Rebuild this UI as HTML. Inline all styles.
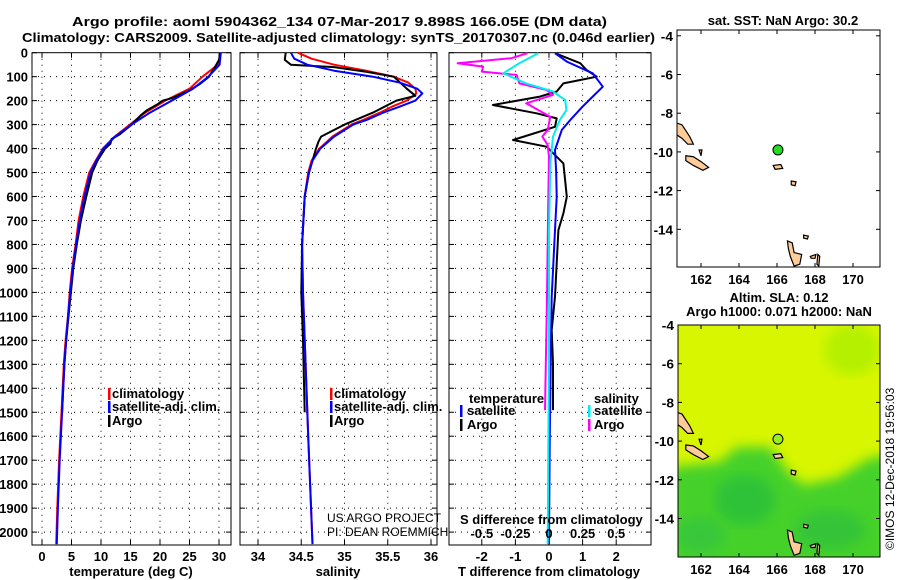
<!DOCTYPE html>
<html><head><meta charset="utf-8">
<style>
body{margin:0;background:#fff;}
svg{display:block;font-family:"Liberation Sans",sans-serif;}
.t{font-weight:bold;font-size:13px;fill:#000;}
.tk{font-weight:bold;font-size:13px;fill:#000;}
</style></head>
<body>
<svg id="c" width="900" height="580" viewBox="0 0 900 580">
<text class="t" x="72" y="26" font-size="14" textLength="535" lengthAdjust="spacingAndGlyphs">Argo profile: aoml 5904362_134 07-Mar-2017 9.898S 166.05E (DM data)</text>
<text class="t" x="22" y="42" font-size="14" textLength="633" lengthAdjust="spacingAndGlyphs">Climatology: CARS2009. Satellite-adjusted climatology: synTS_20170307.nc (0.046d earlier)</text>
<text class="t" x="783" y="25" text-anchor="middle">sat. SST: NaN Argo: 30.2</text>
<text class="t" x="779" y="302" text-anchor="middle">Altim. SLA: 0.12</text>
<text class="t" x="779" y="316" text-anchor="middle">Argo h1000: 0.071 h2000: NaN</text>
<text x="0" y="0" font-size="12" transform="translate(894,550) rotate(-90)">©IMOS 12-Dec-2018 19:56:03</text>
<g id="plots"></g>
</svg>
<script>
// ---- data ----
const depthTicks = [0,100,200,300,400,500,600,700,800,900,1000,1100,1200,1300,1400,1500,1600,1700,1800,1900,2000];
const tempTicks = [0,5,10,15,20,25,30];
const salTicks = [34,34.5,35,35.5,36];
const tdiffTicks = [-2,-1,0,1,2];
const sdiffTickLabels = ["-0.5","-0.25","0","0.25","0.5"];
const sdiffTicks = [-0.5,-0.25,0,0.25,0.5];

const tDepth = [0,50,100,150,200,250,300,350,400,450,500,600,700,800,900,1000,1100,1200,1300,1500,1700,1900,2050];
const tClim = [30.3,29.8,27.2,25.0,20.9,17.5,14.9,12.3,10.3,9.1,8.0,7.0,6.2,5.7,5.1,4.7,4.4,4.0,3.7,3.3,2.9,2.6,2.4];
const tSat = [30.3,30.1,28.2,25.6,22.0,18.3,15.2,12.4,10.4,9.2,8.2,7.2,6.4,5.8,5.2,4.8,4.4,4.1,3.8,3.4,3.0,2.7,2.5];
const tArgoDepth = [0,30,60,100,130,160,190,200,215,240,260,300,340,360,380,400,450,500,600,700,800,900,1000,1100,1200,1300,1400,1500];
const tArgo = [30.2,30.0,29.3,28.3,26.8,24.8,22.0,20.5,19.6,17.8,16.8,15.2,13.2,11.8,11.6,10.7,9.4,8.5,7.5,6.6,5.9,5.3,4.9,4.5,4.1,3.8,3.6,3.4];

const sDepth = [0,25,50,75,100,125,150,170,200,225,250,280,300,350,400,450,500,600,800,1000,1300,1600,2050];
const sClim = [34.46,34.62,34.88,35.25,35.57,35.74,35.82,35.83,35.72,35.55,35.41,35.22,35.08,34.86,34.71,34.62,34.58,34.54,34.51,34.52,34.55,34.58,34.63];
const sSat = [34.38,34.42,34.57,34.88,35.33,35.64,35.84,35.90,35.82,35.64,35.45,35.26,35.10,34.88,34.72,34.63,34.59,34.54,34.51,34.52,34.55,34.58,34.63];
const sArgoDepth = [0,30,50,60,80,100,150,180,200,250,300,350,370,400,450,500,600,800,1000,1200,1500];
const sArgo = [34.32,34.31,34.38,34.88,35.26,35.57,35.72,35.82,35.60,35.33,35.00,34.73,34.70,34.67,34.63,34.59,34.54,34.51,34.50,34.52,34.54];

const dTSatDepth = [2,37,86,142,183,225,281,322,406,490,601,740,1018,1296,1630,2050];
const dTSat = [0.18,0.53,1.3,1.6,1.3,1.0,0.63,0.38,0.18,0.21,0.23,0.18,0.08,0.05,0.02,0.0];
const dTArgoDepth = [2,44,72,100,114,128,162,183,218,253,274,309,364,392,462,531,601,670,740,879,1018,1157,1296,1491];
const dTArgo = [0.18,0.93,1.12,1.42,0.93,0.43,0.23,-0.27,-1.67,-0.37,0.23,0.18,-1.07,-0.07,0.43,0.48,0.53,0.43,0.28,0.23,0.18,0.08,0.12,0.12];
const dSSatDepth = [2,44,86,128,162,197,239,281,350,462,740,1296,1644,2050];
const dSSat = [-0.08,-0.22,-0.34,-0.17,0.03,0.12,0.13,0.08,0.03,0.01,0.0,0.0,-0.005,-0.01];
const dSArgoDepth = [2,23,44,58,79,93,128,155,176,211,239,267,322,350,385,434,601,1018,1491];
const dSArgo = [-0.16,-0.28,-0.68,-0.49,-0.50,-0.24,-0.22,-0.02,0.03,-0.17,-0.08,0.01,-0.01,-0.05,-0.01,0.0,-0.005,-0.015,-0.03];

const floatLon = [166.05];
const floatLat = [-9.898];

// ---- helpers ----
const NS='http://www.w3.org/2000/svg';
const root=document.getElementById('plots');
function el(tag,attrs,parent){const e=document.createElementNS(NS,tag);for(const k in attrs)e.setAttribute(k,attrs[k]);(parent||root).appendChild(e);return e;}
function tw(s){let w=0;for(const ch of String(s)){w+=ch==='-'?5:ch==='.'?3.5:7.2;}return w;}
const yTop=52.7, pxPer=0.2397, yBot=545;
const yD=d=>yTop+d*pxPer;
const panels=[
 {x0:32,x1:231,f:v=>42+v*(177/30),name:'temperature-panel'},
 {x0:240,x1:437,f:v=>258+(v-34)*86.5,name:'salinity-panel'},
 {x0:449,x1:651,f:v=>549+v*33.6,name:'difference-panel'}
];
const sx=v=>549+v*134.4;

panels.forEach((p,i)=>{
 const g=el('g',{});
 
 
 const r=el('rect',{x:p.x0,y:yTop,width:p.x1-p.x0,height:yBot-yTop,fill:'#fff',stroke:'#000','stroke-width':1},g);
 
 
 depthTicks.forEach(d=>{
  if(d>0){const l=el('line',{x1:p.x0,x2:p.x1,y1:yD(d),y2:yD(d),stroke:'#000','stroke-dasharray':'1,5'},g);
  
  }
  el('line',{x1:p.x0,x2:p.x0+5,y1:yD(d),y2:yD(d),stroke:'#000'},g);
  el('line',{x1:p.x1-5,x2:p.x1,y1:yD(d),y2:yD(d),stroke:'#000'},g);
  if(i===0){const t=el('text',{x:p.x0-4,y:yD(d)+5,'text-anchor':'end',class:'tk',textLength:tw(d),lengthAdjust:'spacingAndGlyphs'},g);t.textContent=d;
  
  }
 });
 const ticks=i===0?tempTicks:i===1?salTicks:tdiffTicks;
 ticks.forEach(v=>{
  const x=p.f(v);
  const l=el('line',{x1:x,x2:x,y1:yTop,y2:yBot,stroke:'#000','stroke-dasharray':'1,5'},g);
  
  
  el('line',{x1:x,x2:x,y1:yBot-5,y2:yBot,stroke:'#000'},g);
  el('line',{x1:x,x2:x,y1:yTop,y2:yTop+5,stroke:'#000'},g);
  const t=el('text',{x:x,y:561,'text-anchor':'middle',class:'tk',textLength:tw(v),lengthAdjust:'spacingAndGlyphs'},g);t.textContent=v;
  
  
 });
});
function line(xs,ds,fx,col,name,w){
 const pts=xs.map((v,k)=>fx(v).toFixed(1)+','+yD(ds[k]).toFixed(1)).join(' ');
 const pl=el('polyline',{points:pts,fill:'none',stroke:col,'stroke-width':w||2,'stroke-linejoin':'round'});
 
 
}
line(tClim,tDepth,panels[0].f,'#f00','temp-climatology-line');
line(tArgo,tArgoDepth,panels[0].f,'#000','temp-argo-line');
line(tSat,tDepth,panels[0].f,'#00f','temp-satellite-line');
line(sClim,sDepth,panels[1].f,'#f00','sal-climatology-line');
line(sArgo,sArgoDepth,panels[1].f,'#000','sal-argo-line');
line(sSat,sDepth,panels[1].f,'#00f','sal-satellite-line');
line(dTArgo,dTArgoDepth,panels[2].f,'#000','tdiff-argo-line');
line(dSArgo,dSArgoDepth,sx,'#f0f','sdiff-argo-line');
line(dTSat,dTSatDepth,panels[2].f,'#00f','tdiff-satellite-line');
line(dSSat,dSSatDepth,sx,'#0ee','sdiff-satellite-line');

function txt(x,y,s,cls,name,extra){const t=el('text',Object.assign({x:x,y:y,class:cls||'t'},extra||{}));t.textContent=s;
 
 return t;}
function mark(x,y,c){el('rect',{x:x,y:y-10,width:2.5,height:12,fill:c});}
// legends
[[108,'climatology','#f00'],[330,'climatology','#f00']].forEach(a=>{mark(a[0],398,a[2]);txt(a[0]+4,398,a[1],'t','legend-climatology');});
[[108],[330]].forEach(a=>{mark(a[0],411,'#00f');txt(a[0]+4,411,'satellite-adj. clim.','t','legend-satellite-adj');mark(a[0],425,'#000');txt(a[0]+4,425,'Argo','t','legend-argo');});
txt(469,403,'temperature','t','legend-temperature-heading');
mark(460,415,'#00f');txt(467,415,'satellite','t','legend-temp-satellite');
mark(460,429,'#000');txt(467,429,'Argo','t','legend-temp-argo');
txt(594,403,'salinity','t','legend-salinity-heading');
mark(588,415,'#0ee');txt(594,415,'satellite','t','legend-sal-satellite');
mark(588,429,'#f0f');txt(594,429,'Argo','t','legend-sal-argo');
txt(327,522,'US ARGO PROJECT','x','credit-project',{'font-size':'12',fill:'#000'});
txt(327,536,'PI: DEAN ROEMMICH','x','credit-pi',{'font-size':'12',fill:'#000'});
txt(460,524,'S difference from climatology','t','sdiff-axis-title');
sdiffTicks.forEach((v,k)=>txt(sx(v),538,sdiffTickLabels[k],'tk','sdiff-tick-label',{'text-anchor':'middle',textLength:tw(sdiffTickLabels[k]),lengthAdjust:'spacingAndGlyphs'}));
txt(131,576,'temperature (deg C)','t','temp-axis-title',{'text-anchor':'middle'});
txt(338,576,'salinity','t','salinity-axis-title',{'text-anchor':'middle'});
txt(549,576,'T difference from climatology','t','tdiff-axis-title',{'text-anchor':'middle'});

// ---- maps ----
const lonTicks=[162,164,166,168,170];
const latTicks=[-4,-6,-8,-10,-12,-14];
const islands=[
 [[160.7,-8.5],[161.0,-8.6],[161.4,-9.2],[161.6,-9.6],[161.3,-9.6],[161.0,-9.3],[160.7,-9.1]],
 [[161.2,-10.2],[161.6,-10.25],[162.0,-10.5],[162.4,-10.8],[162.1,-10.95],[161.6,-10.7],[161.2,-10.45]],
 [[161.9,-9.9],[162.05,-9.9],[162.0,-10.2]],
 [[165.8,-10.7],[166.2,-10.65],[166.3,-10.85],[165.9,-10.9]],
 [[166.75,-11.5],[167.0,-11.55],[166.95,-11.75],[166.75,-11.7]],
 [[167.4,-14.3],[167.65,-14.35],[167.6,-14.5],[167.4,-14.45]],
 [[166.55,-14.6],[166.8,-14.7],[166.9,-15.2],[167.3,-15.3],[167.2,-15.8],[166.9,-15.9],[166.7,-15.4],[166.6,-15.0]],
 [[167.75,-15.4],[168.05,-15.3],[168.0,-15.5],[167.8,-15.5]],
 [[168.15,-15.3],[168.25,-15.4],[168.2,-15.9],[168.1,-15.8]]
];
function drawMap(x0,y0,x1,y1,lat0,name,bg){
 const g=el('g',{});
 
 
 const fx=lon=>682+(lon-161)*19;
 const fy=lat=>y0+(lat0-lat)*19.35;
 const clipId=name+'-clip';
 const cp=el('clipPath',{id:clipId},g);el('rect',{x:x0,y:y0,width:x1-x0,height:y1-y0},cp);
 const inner=el('g',{'clip-path':'url(#'+clipId+')'},g);
 bg(inner,fx,fy,x0,y0,x1,y1);
 islands.forEach(is=>{
  const p=el('polygon',{points:is.map(q=>fx(q[0])+','+fy(q[1])).join(' '),fill:'#fc9',stroke:'#000','stroke-width':1.2},inner);
  
  
 });
 const c=el('circle',{cx:fx(floatLon[0]),cy:fy(floatLat[0]),r:5,fill:name==='sst-map'?'#2d2':'#9e2',stroke:'#000'},inner);
 
 
 const fr=el('rect',{x:x0,y:y0,width:x1-x0,height:y1-y0,fill:'none',stroke:'#000'},g);
 
 
 lonTicks.forEach(v=>{const x=fx(v);el('line',{x1:x,x2:x,y1:y1-4,y2:y1,stroke:'#000'},g);el('line',{x1:x,x2:x,y1:y0,y2:y0+4,stroke:'#000'},g);
  txt(x,y1+17,v,'tk','map-lon-label',{'text-anchor':'middle',textLength:tw(v),lengthAdjust:'spacingAndGlyphs'});});
 latTicks.forEach(v=>{const y=fy(v);if(y<y0-1)return;el('line',{x1:x0,x2:x0+4,y1:y,y2:y,stroke:'#000'},g);el('line',{x1:x1-4,x2:x1,y1:y,y2:y,stroke:'#000'},g);
  txt(x0-4,y+5,v,'tk','map-lat-label',{'text-anchor':'end',textLength:tw(v),lengthAdjust:'spacingAndGlyphs'});});
}
drawMap(677,30,880,267,-3.7,'sst-map',(g,fx,fy,x0,y0,x1,y1)=>{el('rect',{x:x0,y:y0,width:x1-x0,height:y1-y0,fill:'#fff'},g);});
drawMap(678,325,880,557,-4,'sla-map',(g,fx,fy,x0,y0,x1,y1)=>{
 el('rect',{x:x0,y:y0,width:x1-x0,height:y1-y0,fill:'#d8f600'},g);
 const f=el('filter',{id:'bl'},g);el('feGaussianBlur',{stdDeviation:6},f);
 el('ellipse',{cx:852,cy:350,rx:28,ry:25,fill:'#b4f000',filter:'url(#bl)'},g);
 const gp=el('polygon',{points:'670,467 720,462 737,447 770,447 787,470 803,485 837,478 870,458 890,455 890,570 670,570',fill:'#44d12a',filter:'url(#bl)'},g);
 
 
 el('ellipse',{cx:745,cy:500,rx:30,ry:25,fill:'#2fc238',filter:'url(#bl)'},g);
 el('ellipse',{cx:830,cy:530,rx:35,ry:20,fill:'#35c437',filter:'url(#bl)'},g);
 el('ellipse',{cx:700,cy:535,rx:25,ry:18,fill:'#38c73a',filter:'url(#bl)'},g);
});
</script>
</body></html>
